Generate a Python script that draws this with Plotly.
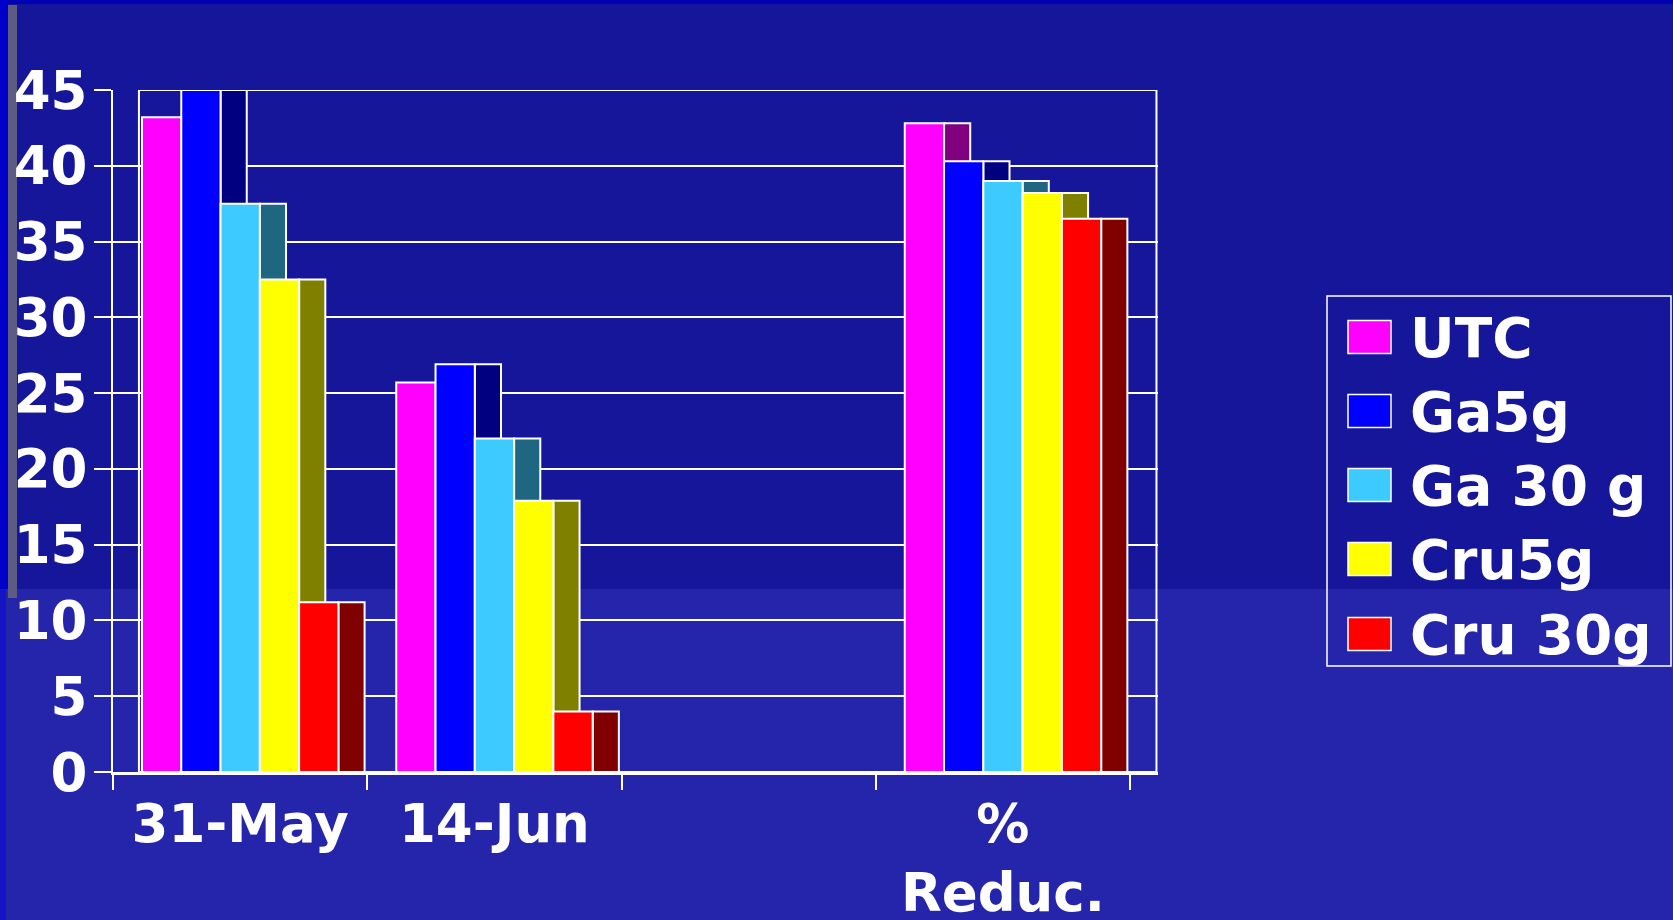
import plotly.graph_objects as go

# ---------------- data ----------------
categories = ["31-May", "14-Jun", "", "%<br>Reduc."]
series_names = ["UTC", "Ga5g", "Ga 30 g", "Cru5g", "Cru 30g"]
utc = [43.2, 25.7, 0, 42.8]
ga5g = [45.0, 26.9, 0, 40.3]
ga30g = [37.5, 22.0, 0, 39.0]
cru5g = [32.5, 17.9, 0, 38.2]
cru30g = [11.2, 4.0, 0, 36.5]
series_values = [utc, ga5g, ga30g, cru5g, cru30g]
y_ticks = [0, 5, 10, 15, 20, 25, 30, 35, 40, 45]

# ---------------- style ----------------
front_colors = ["#FF00FF", "#0000FF", "#3DCBFF", "#FFFF00", "#FF0000"]
side_colors = ["#800080", "#000080", "#1F6680", "#808000", "#800000"]
BG = "#16169B"
BG_LOW = "#2525AB"
FONT = "DejaVu Sans"
W, H = 1673, 920
PL, PR, PT, PB = 113, 1158, 90, 772   # plot area in pixels

bar_w = 0.1545      # front face width (category units)
side_w = 0.103      # depth (side face) width
group_left = -0.386
xpos = list(range(len(categories)))

fig = go.Figure()

# side faces first (they are hidden behind the next bar's front face)
for i, (name, vals) in enumerate(zip(series_names, series_values)):
    fig.add_trace(go.Bar(
        x=xpos, y=vals, name=name + " side", showlegend=False,
        offset=group_left + (i + 1) * bar_w, width=side_w,
        marker=dict(color=side_colors[i], line=dict(color="white", width=2)),
        hoverinfo="skip",
    ))
# front faces
for i, (name, vals) in enumerate(zip(series_names, series_values)):
    fig.add_trace(go.Bar(
        x=xpos, y=vals, name=name, showlegend=False,
        offset=group_left + i * bar_w, width=bar_w,
        marker=dict(color=front_colors[i], line=dict(color="white", width=2)),
    ))

# invisible trace for label axis
fig.add_trace(go.Scatter(x=[0], y=[None], xaxis="x2", yaxis="y",
                         showlegend=False, hoverinfo="skip"))

x_range = [-0.5, 3.61]
fig.update_layout(
    template="none",
    width=W, height=H, autosize=False,
    paper_bgcolor=BG, plot_bgcolor="rgba(0,0,0,0)",
    margin=dict(l=PL, r=W - PR, t=PT, b=H - PB, pad=0, autoexpand=False),
    barmode="overlay", showlegend=False,
    font=dict(family=FONT, color="white", weight="bold"),
    xaxis=dict(
        range=x_range, tickvals=[-0.5, 0.5, 1.5, 2.5, 3.5], ticktext=[""] * 5,
        ticks="outside", ticklen=15, tickwidth=2, tickcolor="white",
        showline=True, linecolor="white", linewidth=3, automargin=False,
        showgrid=False, zeroline=False, fixedrange=True,
    ),
    xaxis2=dict(
        range=x_range, overlaying="x", anchor="y", side="bottom",
        tickvals=xpos, ticktext=categories, ticks="", automargin=False,
        tickfont=dict(family=FONT, size=53, color="white", weight="bold"),
        ticklabelstandoff=16,
        showline=False, showgrid=False, zeroline=False,
    ),
    yaxis=dict(
        range=[0, 45], tickvals=y_ticks, ticks="outside", ticklen=17,
        tickwidth=2, tickcolor="white", automargin=False,
        tickfont=dict(family=FONT, size=53, color="white", weight="bold"),
        ticklabelstandoff=-4,
        showline=True, linecolor="white", linewidth=2,
        showgrid=True, gridcolor="white", gridwidth=2,
        zeroline=False,
    ),
)

# helpers: pixel -> paper (paper is relative to the plot area)
def fx(px):
    return (px - PL) / (PR - PL)

def fy(py):
    return (PB - py) / (PB - PT)

def px_rect(x0, y0, x1, y1, color, layer="below", line=None):
    return dict(type="rect", xref="paper", yref="paper",
                x0=fx(x0), x1=fx(x1), y0=fy(y1), y1=fy(y0),
                fillcolor=color, line=line or dict(width=0), layer=layer)

shapes = []
# slide decorations
shapes.append(px_rect(0, 589, W, H, BG_LOW))
shapes.append(px_rect(0, 0, W, 4, "#0000B4"))
shapes.append(px_rect(0, 0, 8, 589, "#0000C8"))
shapes.append(px_rect(0, 589, 6, H, "#1414C4"))
shapes.append(px_rect(8, 5, 17, 598, "#5C5C82"))
# back wall outline
shapes.append(dict(type="rect", xref="x", yref="y", x0=-0.398, x1=3.604,
                   y0=0, y1=45, line=dict(color="white", width=2),
                   fillcolor="rgba(0,0,0,0)", layer="below"))

# manual legend
shapes.append(px_rect(1327, 296, 1671, 666, "rgba(0,0,0,0)", layer="above",
                      line=dict(color="white", width=1.5)))
row_y = [337, 411, 485, 559, 634]
annotations = []
for i, name in enumerate(series_names):
    cy = row_y[i]
    shapes.append(px_rect(1348, cy - 16.5, 1391, cy + 16.5, front_colors[i],
                          layer="above", line=dict(color="white", width=1.5)))
    annotations.append(dict(xref="paper", yref="paper", x=fx(1408), y=fy(cy + 1),
                            xanchor="left", yanchor="middle", showarrow=False,
                            text=name,
                            font=dict(family=FONT, size=55, color="white", weight="bold")))

fig.update_layout(shapes=shapes, annotations=annotations)

fig.write_html("out.html", config={"displayModeBar": False},
               post_script="document.body.style.margin='0';document.body.style.overflow='hidden';")
